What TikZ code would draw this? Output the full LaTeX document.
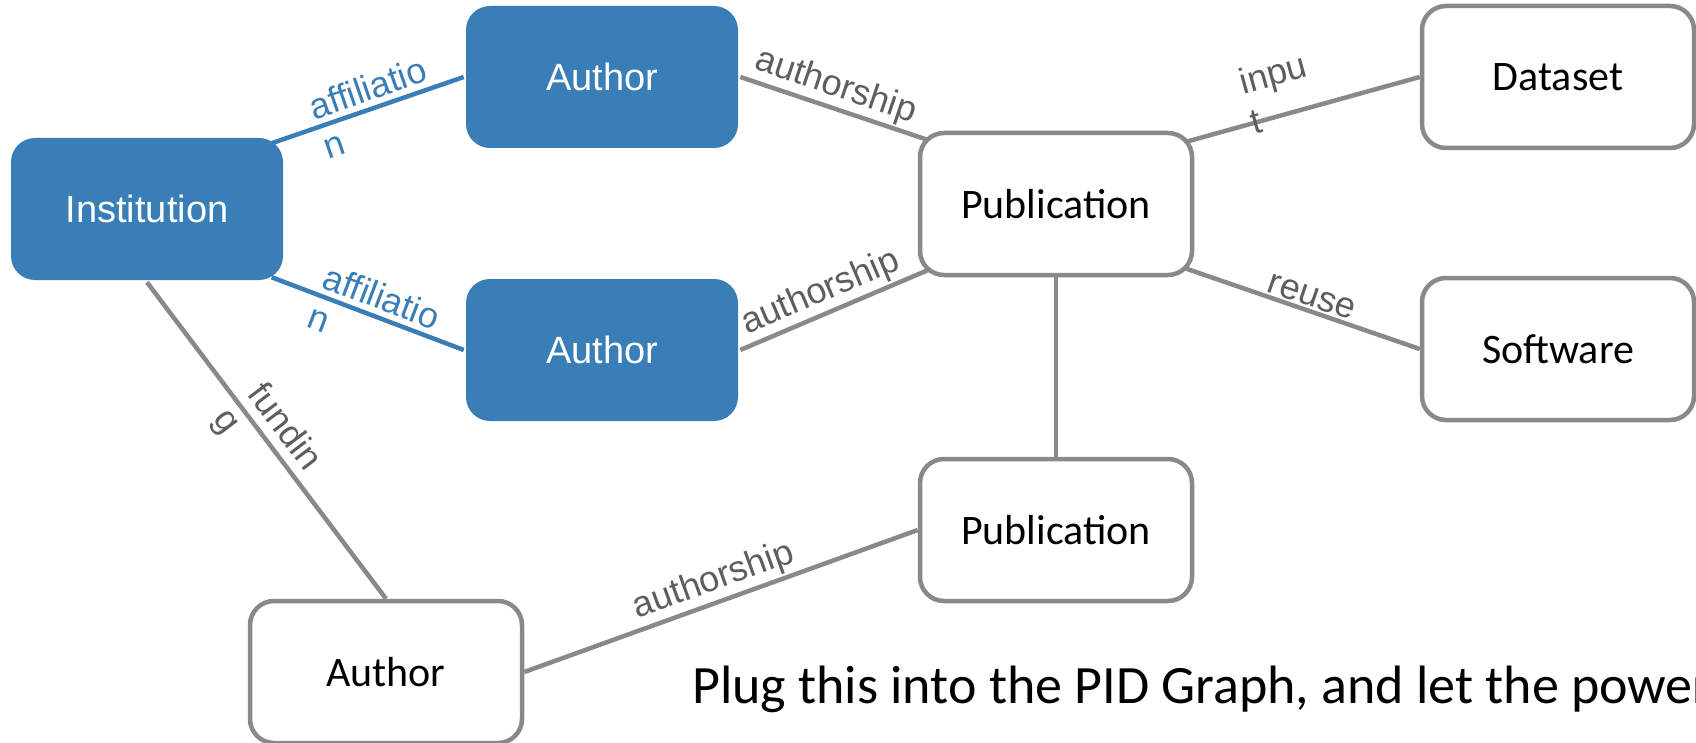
\documentclass[tikz,border=0pt]{standalone}
\usepackage{fontspec}
\setmainfont{Carlito}
\newfontfamily\helv{Liberation Sans}
\usepackage{xcolor}
\usetikzlibrary{math, backgrounds}
\definecolor{pidblue}{RGB}{58,126,184}
\definecolor{pidgray}{RGB}{135,137,140}
\definecolor{labelgray}{RGB}{92,94,97}

\tikzset{
  entity/.style={rectangle, rounded corners=24pt, minimum width=\W pt, minimum height=\H pt, line width=4.5pt},
  bluebox/.style={entity, fill=pidblue, text=white, font=\helv\fontsize{38}{44}\selectfont},
  whitebox/.style={entity, draw=pidgray, fill=white, font=\fontsize{42}{44}\selectfont},
  link/.style={line width=4.5pt, draw=pidgray},
  bluelink/.style={line width=4.5pt, draw=pidblue},
  rel/.style={midway, sloped, align=left, inner sep=2pt, text=labelgray, font=\helv\fontsize{36}{42}\selectfont},
}

\begin{document}
\begin{tikzpicture}[x=1pt, y=-1pt]
\tikzmath{
\W=272;
\H=142;
}
\useasboundingbox (0,0) rectangle (1696,743);

\node[bluebox] (Inst) at (147,209) {Institution};
\node[bluebox] (Auth1) at (602,77) {Author};
\node[bluebox] (Auth2) at (602,350) {Author};
\node[whitebox] (Pub1) at (1056,204) {Publication};
\node[whitebox] (Pub2) at (1056,530) {Publication};
\node[whitebox] (Data) at (1558,77) {Dataset};
\node[whitebox] (Soft) at (1558,349) {Software};
\node[whitebox] (Auth3) at (386,672) {Author};

% links sit behind the boxes, corner ends are pushed inside
\begin{scope}[on background layer]
\draw[bluelink, shorten <=-14pt] (Inst.27) -- (Auth1.west) node[rel, text=pidblue] {affiliatio\\n};
\draw[bluelink, shorten <=-14pt] (Inst.-28) -- (Auth2.west) node[rel, text=pidblue] {affiliatio\\n};
\draw[link] (Inst.south) -- (Auth3.north) node[rel] {fundin\\g};
\draw[link, shorten >=-14pt] (Auth1.east) -- (Pub1.154) node[rel, above] {authorship};
\draw[link, shorten >=-14pt] (Auth2.east) -- (Pub1.207) node[rel, above] {authorship};
\draw[link, shorten <=-14pt] (Pub1.25) -- (Data.west) node[rel, pos=0.4, anchor=south, yshift=-16pt] {inpu\\t};
\draw[link, shorten <=-14pt] (Pub1.-26) -- (Soft.west) node[rel, above] {reuse};
\draw[link] (Pub1.south) -- (Pub2.north);
\draw[link] (Auth3.east) -- (Pub2.west) node[rel, above] {authorship};
\end{scope}

\node[anchor=base west, inner sep=0pt, font=\fontsize{54}{64}\selectfont] (plug) at (692,703) {Plug this into the PID Graph, and let the power};

\end{tikzpicture}
\end{document}
